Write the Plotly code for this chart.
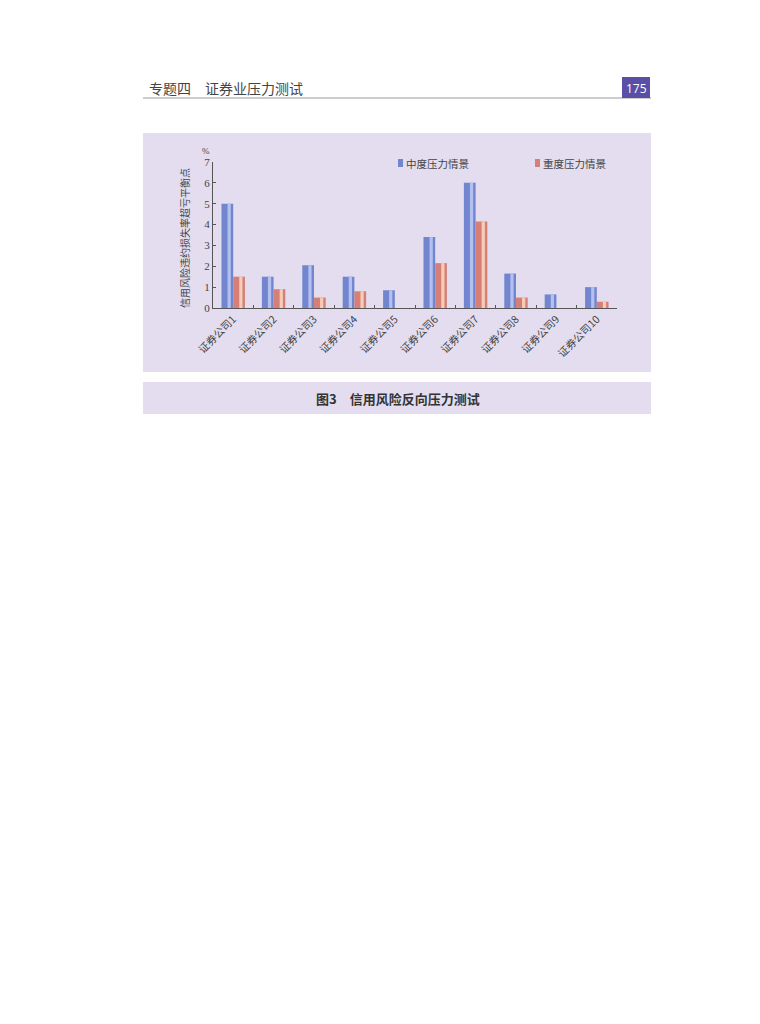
import plotly.graph_objects as go

# data
companies = ["证券公司1", "证券公司2", "证券公司3", "证券公司4", "证券公司5",
             "证券公司6", "证券公司7", "证券公司8", "证券公司9", "证券公司10"]
moderate = [5.0, 1.5, 2.05, 1.5, 0.85, 3.4, 6.0, 1.65, 0.65, 1.0]
severe = [1.5, 0.9, 0.5, 0.8, 0, 2.15, 4.15, 0.5, 0, 0.3]
y_ticks = [0, 1, 2, 3, 4, 5, 6, 7]

W, H = 760, 1024
# page body adds an 8px margin, so pull everything back by 8px
def px(x):
    return (x - 8) / W
def py(y):
    return 1 - (y - 8) / H

BG = "#e3ddef"
BLUE = "#7285cf"
RED = "#d57f76"
SERIF = "Liberation Serif, Noto Sans CJK SC"
CJK = "Noto Sans CJK SC"

fig = go.Figure()

bw = 0.29
# base bars
fig.add_trace(go.Bar(x=companies, y=moderate, name="中度压力情景",
                     width=bw, offset=-bw, marker=dict(color=BLUE, line=dict(width=0))))
fig.add_trace(go.Bar(x=companies, y=severe, name="重度压力情景",
                     width=bw, offset=0, marker=dict(color=RED, line=dict(width=0))))
# light stripe to fake the cylinder shading
fig.add_trace(go.Bar(x=companies, y=moderate, showlegend=False, hoverinfo="skip",
                     width=0.08, offset=-bw + 0.15, marker=dict(color="#b3c0f0", line=dict(width=0))))
fig.add_trace(go.Bar(x=companies, y=severe, showlegend=False, hoverinfo="skip",
                     width=0.08, offset=0.15, marker=dict(color="#f6cdb8", line=dict(width=0))))

shapes = [
    # chart panel
    dict(type="rect", xref="paper", yref="paper", x0=px(143), x1=px(651), y0=py(372), y1=py(133),
         fillcolor=BG, line=dict(width=0), layer="below"),
    # caption panel
    dict(type="rect", xref="paper", yref="paper", x0=px(143), x1=px(651), y0=py(414), y1=py(382),
         fillcolor=BG, line=dict(width=0), layer="below"),
    # header rule
    dict(type="line", xref="paper", yref="paper", x0=px(143), x1=px(651), y0=py(98), y1=py(98),
         line=dict(color="#9a9a9a", width=1)),
    # page number box
    dict(type="rect", xref="paper", yref="paper", x0=px(622), x1=px(650), y0=py(98), y1=py(77),
         fillcolor="#5a4fa6", line=dict(width=0)),
    # legend swatches
    dict(type="rect", xref="paper", yref="paper", x0=px(398), x1=px(403), y0=py(167), y1=py(159),
         fillcolor=BLUE, line=dict(width=0)),
    dict(type="rect", xref="paper", yref="paper", x0=px(535), x1=px(540), y0=py(167), y1=py(159),
         fillcolor=RED, line=dict(width=0)),
]

annotations = [
    dict(text="专题四　证券业压力测试", x=px(147), y=py(88), xref="paper", yref="paper",
         xanchor="left", yanchor="middle", showarrow=False,
         font=dict(family=CJK, size=14, color="#444")),
    dict(text="175", x=px(636), y=py(88), xref="paper", yref="paper",
         xanchor="center", yanchor="middle", showarrow=False,
         font=dict(family="Open Sans", size=12, color="white")),
    dict(text="%", x=px(206), y=py(151), xref="paper", yref="paper",
         xanchor="center", yanchor="middle", showarrow=False,
         font=dict(family=SERIF, size=9, color="#444")),
    dict(text="信用风险违约损失率超亏平衡点", x=px(184), y=py(238), xref="paper", yref="paper",
         xanchor="center", yanchor="middle", showarrow=False, textangle=-90,
         font=dict(family=CJK, size=10, color="#444")),
    dict(text="中度压力情景", x=px(404), y=py(163), xref="paper", yref="paper",
         xanchor="left", yanchor="middle", showarrow=False,
         font=dict(family=CJK, size=10.5, color="#444")),
    dict(text="重度压力情景", x=px(541), y=py(163), xref="paper", yref="paper",
         xanchor="left", yanchor="middle", showarrow=False,
         font=dict(family=CJK, size=10.5, color="#444")),
    dict(text="<b>图3　信用风险反向压力测试</b>", x=px(398), y=py(398), xref="paper", yref="paper",
         xanchor="center", yanchor="middle", showarrow=False,
         font=dict(family=CJK, size=13, color="#333")),
]

fig.update_layout(
    template="none",
    width=W, height=H,
    margin=dict(l=0, r=0, t=0, b=0, pad=0),
    paper_bgcolor="white",
    plot_bgcolor="rgba(0,0,0,0)",
    barmode="overlay",
    shapes=shapes,
    annotations=annotations,
    showlegend=False,
    xaxis=dict(domain=[px(213), px(617)], automargin=False, showgrid=False, showline=True,
               linecolor="#555", linewidth=1, ticks="inside", tickson="boundaries", ticklen=3,
               tickcolor="#555", tickangle=-45, tickfont=dict(family=CJK, size=10.5, color="#444"),
               fixedrange=True),
    yaxis=dict(domain=[py(308), py(162)], range=[0, 7], tickvals=y_ticks, automargin=False,
               showgrid=False, showline=True, linecolor="#555", linewidth=1, ticks="inside",
               ticklen=3, tickcolor="#555", zeroline=False,
               tickfont=dict(family=SERIF, size=11, color="#444")),
)

fig.write_html("out.html")
